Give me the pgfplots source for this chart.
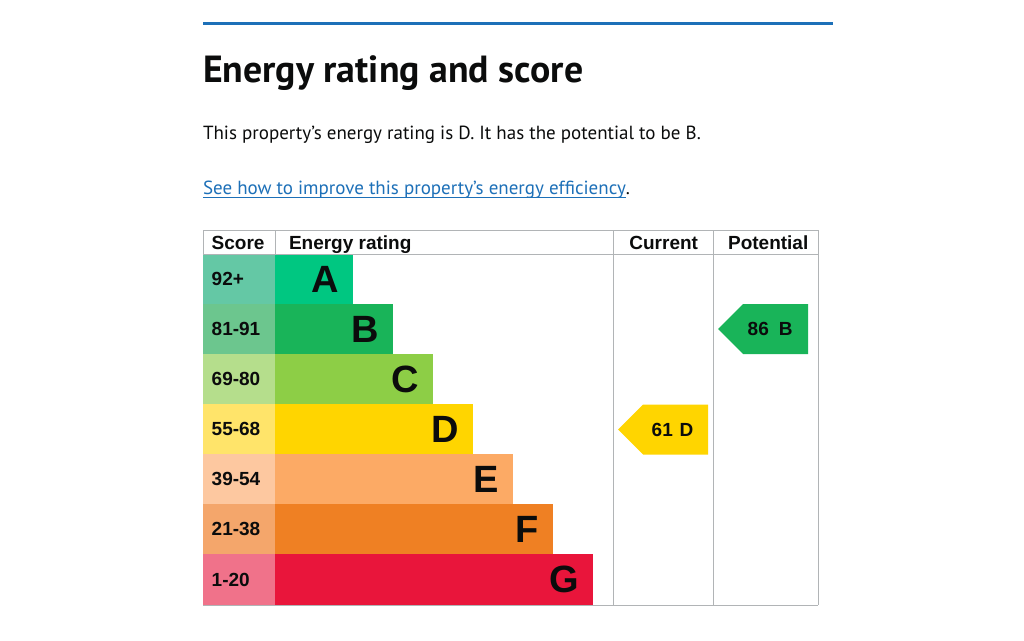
\documentclass[border=0pt]{standalone}
\usepackage{pgfplots}
\pgfplotsset{compat=1.18}
\usepackage{fontspec}
\setmainfont{Liberation Sans}
\newfontfamily\gds{PT Sans}

\definecolor{govblue}{HTML}{1D70B8}
\definecolor{govtext}{HTML}{0B0C0C}
\definecolor{rule}{HTML}{B1B4B6}
% bar and score-cell colours, bands A..G
\definecolor{barA}{HTML}{00C781}\definecolor{scA}{HTML}{64C8A5}
\definecolor{barB}{HTML}{19B459}\definecolor{scB}{HTML}{6CC68E}
\definecolor{barC}{HTML}{8DCE46}\definecolor{scC}{HTML}{B5DE8C}
\definecolor{barD}{HTML}{FFD500}\definecolor{scD}{HTML}{FFE46A}
\definecolor{barE}{HTML}{FCAA65}\definecolor{scE}{HTML}{FDC8A0}
\definecolor{barF}{HTML}{EF8023}\definecolor{scF}{HTML}{F4A66B}
\definecolor{barG}{HTML}{E9153B}\definecolor{scG}{HTML}{F0728A}

% #1 top, #2 bottom, #3 bar end, #4 band letter
\newcommand\band[4]{%
  \addplot[draw=none, fill=sc#4] coordinates {(203,#1) (275,#1) (275,#2) (203,#2)} -- cycle;
  \addplot[draw=none, fill=bar#4] coordinates {(275,#1) (#3,#1) (#3,#2) (275,#2)} -- cycle;
}
\newcommand\bandfont{\fontsize{38}{38}\selectfont\bfseries}
\newcommand\lab{\fontsize{19}{19}\selectfont\bfseries}
\newcommand\body{\gds\fontsize{19}{19}\selectfont}

\begin{document}
\begin{tikzpicture}[every node/.style={inner sep=0pt, outer sep=0pt, text=govtext}]
\begin{axis}[
  scale only axis, width=1024pt, height=640pt,
  xmin=0, xmax=1024, ymin=0, ymax=640, y dir=reverse,
  hide axis, clip=false,
]
\addplot[draw=none, fill=white] coordinates {(0,0) (1024,0) (1024,640) (0,640)} -- cycle;

% top rule
\addplot[govblue, line width=3pt] coordinates {(203,23.5) (833,23.5)};

% rating bands: top, bottom, bar end
\band{254}{304}{353}{A}
\band{304}{354}{393}{B}
\band{354}{404}{433}{C}
\band{404}{454}{473}{D}
\band{454}{504}{513}{E}
\band{504}{554}{553}{F}
\band{554}{605}{593}{G}

% table lines
\addplot[rule, line width=1pt] coordinates {(203,230) (818,230)};
\addplot[rule, line width=1pt] coordinates {(203,254) (818,254)};
\addplot[rule, line width=1pt] coordinates {(203,605) (818,605)};
\addplot[rule, line width=1pt] coordinates {(203,230) (203,254)};
\addplot[rule, line width=1pt] coordinates {(275,230) (275,254)};
\addplot[rule, line width=1pt] coordinates {(613,230) (613,605)};
\addplot[rule, line width=1pt] coordinates {(713,230) (713,605)};
\addplot[rule, line width=1pt] coordinates {(818,230) (818,605)};

% current and potential arrows
\addplot[draw=none, fill=barD] coordinates {(618,429.5) (643,404.5) (708,404.5) (708,454.5) (643,454.5)} -- cycle;
\addplot[draw=none, fill=barB] coordinates {(718,329) (743,304) (808,304) (808,354) (743,354)} -- cycle;

% headings and text
\node[anchor=base west, font=\gds\fontsize{37.8}{38}\selectfont\bfseries] at (axis cs:203,82.7) {Energy rating and score};
\node[anchor=base west, font=\body] at (axis cs:203,139) {This property’s energy rating is D. It has the potential to be B.};
\node[anchor=base west, font=\body, text=govblue] (link) at (axis cs:203,194) {See how to improve this property’s energy efficiency};
\draw[govblue, line width=1pt] ([yshift=-3pt]link.base west) -- ([yshift=-3pt]link.base east);
\node[anchor=base west, font=\body] at (link.base east) {.};

% table headers
\node[anchor=base west, font=\lab] at (axis cs:211.7,249) {Score};
\node[anchor=base west, font=\lab] at (axis cs:289,249) {Energy rating};
\node[anchor=base, font=\lab] at (axis cs:663.7,249) {Current};
\node[anchor=base, font=\lab] at (axis cs:768.2,249) {Potential};

% score ranges
\node[anchor=west, font=\lab] at (axis cs:211.7,279) {92+};
\node[anchor=west, font=\lab] at (axis cs:211.7,329) {81-91};
\node[anchor=west, font=\lab] at (axis cs:211.7,379) {69-80};
\node[anchor=west, font=\lab] at (axis cs:211.7,429) {55-68};
\node[anchor=west, font=\lab] at (axis cs:211.7,479) {39-54};
\node[anchor=west, font=\lab] at (axis cs:211.7,529) {21-38};
\node[anchor=west, font=\lab] at (axis cs:211.7,579.5) {1-20};

% band letters
\node[anchor=east, font=\bandfont] at (axis cs:339,279) {A};
\node[anchor=east, font=\bandfont] at (axis cs:379,329) {B};
\node[anchor=east, font=\bandfont] at (axis cs:419,379) {C};
\node[anchor=east, font=\bandfont] at (axis cs:459,429) {D};
\node[anchor=east, font=\bandfont] at (axis cs:499,479) {E};
\node[anchor=east, font=\bandfont] at (axis cs:539,529) {F};
\node[anchor=east, font=\bandfont] at (axis cs:579,579.5) {G};

% arrow labels
\node[anchor=west, font=\lab] at (axis cs:651.7,429.5) {61};
\node[anchor=east, font=\lab] at (axis cs:693.3,429.5) {D};
\node[anchor=west, font=\lab] at (axis cs:747.7,329) {86};
\node[anchor=east, font=\lab] at (axis cs:792.7,329) {B};
\end{axis}
\end{tikzpicture}
\end{document}
